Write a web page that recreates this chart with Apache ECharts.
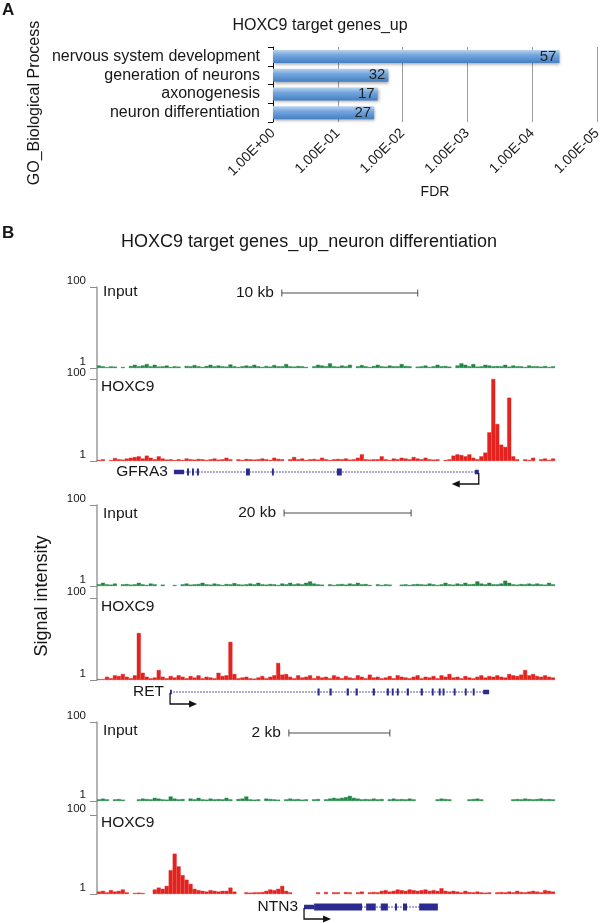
<!DOCTYPE html>
<html><head><meta charset="utf-8">
<script src="https://cdn.jsdelivr.net/npm/echarts@6/dist/echarts.min.js"></script>
<style>html,body{margin:0;padding:0;background:#fff}#c{width:600px;height:923px}</style>
</head><body><div id="c"></div>
<script>
const FONT = '"Liberation Sans", Arial, Helvetica, sans-serif';

// ---------- Panel A data ----------
const goTerms = ['nervous system development', 'generation of neurons', 'axonogenesis', 'neuron differentiation'];
const goFDR = [3.8e-5, 1.66e-2, 2.43e-2, 2.75e-2];
const goCounts = [57, 32, 17, 27];
const fdrTickLabels = ['1.00E+00', '1.00E-01', '1.00E-02', '1.00E-03', '1.00E-04', '1.00E-05'];

// ---------- Panel B data (signal per genomic bin, log scale 1..100) ----------
const gfra3Input = [1.15,1.1,1.05,1.1,1.08,null,1.06,null,1.12,1.2,
 1.1,1.15,1.25,1.1,1.2,1.08,1.1,1.15,1.06,1.1,
 1.08,null,1.12,1.1,1.18,1.1,1.06,1.12,1.2,1.1,
 1.15,1.1,1.08,1.22,1.1,1.06,1.1,1.15,1.1,1.2,
 1.1,1.06,1.12,1.08,1.18,1.1,1.1,1.25,1.1,1.08,
 1.12,1.1,1.06,null,1.1,1.2,1.15,1.1,1.3,1.1,
 1.08,1.15,1.1,1.2,null,1.1,1.18,1.1,1.06,1.12,
 1.2,1.1,1.08,1.15,1.1,1.1,1.25,1.12,1.1,null,
 1.08,1.1,1.15,1.06,1.1,1.2,1.1,1.12,1.08,null,
 1.15,1.3,1.2,1.1,1.25,1.08,1.1,1.2,1.15,1.1,
 1.12,1.1,1.2,1.08,1.15,1.1,1.1,1.06,1.15,1.1,
 1.1,1.08,1.12,1.06,1.1];
const gfra3Hoxc9 = [1.06,1.1,null,1.05,1.18,1.1,1.08,1.15,1.2,1.25,
 1.3,1.15,1.35,1.2,1.1,1.3,1.15,1.08,1.1,1.05,
 1.1,1.06,1.15,1.1,1.08,1.12,1.1,1.06,1.1,1.15,
 1.08,1.1,1.2,1.1,null,1.1,1.06,1.12,1.1,1.08,
 1.1,1.15,1.1,1.06,1.2,1.12,1.1,null,1.1,1.25,
 1.1,1.15,1.06,1.1,1.12,1.08,1.2,1.1,1.06,1.1,
 1.12,1.1,1.15,1.08,1.1,1.2,1.45,1.1,1.08,1.1,
 1.1,1.3,1.1,1.06,1.15,1.1,1.2,1.15,1.1,1.25,
 1.15,1.1,1.2,1.1,1.08,1.1,null,1.06,1.1,1.35,
 1.45,1.4,1.3,1.45,1.2,1.1,1.3,1.6,5,100,
 8,2.5,2.2,35,1.3,1.1,null,1.1,1.06,1.2,
 null,1.1,1.15,1.06,1.15];
const retInput = [1.1,1.2,1.1,1.08,1.15,null,1.1,1.12,1.08,1.1,
 1.2,1.1,1.06,1.15,1.1,null,1.08,null,null,1.06,
 null,1.1,1.15,1.08,1.1,1.12,1.2,1.1,1.08,1.15,
 1.1,1.06,1.12,1.1,1.18,1.1,1.08,1.1,1.15,1.1,
 1.2,1.1,1.08,1.12,1.1,1.06,1.15,1.1,1.2,1.1,
 1.15,1.1,1.2,1.3,1.15,1.1,1.08,null,1.1,1.06,
 1.1,1.12,1.08,1.15,1.1,1.2,1.1,1.12,1.06,null,
 1.1,1.06,1.1,1.08,null,null,1.08,1.1,1.06,1.1,
 1.12,1.1,1.08,1.15,1.1,1.06,1.1,1.2,1.1,1.08,
 1.15,1.1,1.2,1.1,1.12,1.3,1.15,1.1,1.2,1.1,
 1.1,1.15,1.35,1.2,1.1,1.08,1.12,1.1,1.15,1.1,
 1.15,1.1,1.08,1.2,1.1];
const retHoxc9 = [1.05,1.05,1.2,1.1,1.3,1.25,1.4,1.2,1.1,1.3,
 14,1.5,1.2,1.1,1.15,1.75,1.2,1.1,1.25,1.15,
 1.3,1.2,1.1,1.25,1.15,1.3,1.1,1.2,1.15,1.1,
 1.5,1.25,1.3,8.5,1.4,1.1,1.15,1.2,1.1,1.08,
 1.15,1.25,1.1,1.2,1.3,2.6,1.35,1.4,1.2,1.1,
 1.3,1.15,1.2,1.3,1.1,1.25,1.15,1.2,1.1,1.3,
 1.2,1.1,1.25,1.15,1.1,1.3,1.2,1.1,1.35,1.15,
 1.2,1.1,1.15,1.25,1.1,1.3,1.2,1.15,1.1,1.2,
 1.3,1.1,1.2,1.15,1.25,1.1,1.3,1.2,1.4,1.15,
 1.2,1.1,1.25,1.15,1.1,1.2,1.3,1.15,1.25,1.2,
 1.3,1.2,1.15,1.4,1.3,1.25,1.35,1.75,1.3,1.4,
 1.25,1.2,1.3,1.2,1.15];
const ntn3Input = [1.1,1.15,1.1,null,1.1,1.12,1.08,null,null,null,
 1.1,1.15,1.12,1.1,1.2,1.15,1.1,1.08,1.3,1.15,
 1.1,1.12,null,1.15,1.1,1.2,1.1,1.08,1.15,1.1,
 1.12,1.1,1.2,1.1,null,1.12,1.15,1.3,1.1,1.08,
 1.1,null,1.15,1.12,1.1,1.08,null,1.1,1.15,1.1,
 1.12,1.08,1.1,null,1.1,1.12,null,1.1,1.15,1.2,
 1.15,1.2,1.25,1.35,1.2,1.15,1.1,1.12,1.1,1.15,
 1.1,1.12,null,1.1,1.15,1.1,1.12,1.1,1.15,1.1,
 null,null,null,null,null,1.1,1.15,1.12,1.1,null,
 null,null,null,1.1,1.12,1.15,1.1,null,null,null,
 null,null,null,null,1.1,1.12,1.1,1.15,1.12,1.1,
 1.12,1.15,1.1,1.12,1.1];
const ntn3Hoxc9 = [1.15,1.2,1.1,1.25,1.15,1.2,1.3,1.1,null,1.06,
 1.08,1.06,null,null,1.3,1.45,1.35,1.6,4,10.5,
 5,3,2.3,1.8,1.35,1.25,1.2,1.15,1.25,1.2,
 1.15,1.2,1.2,1.45,1.15,null,null,1.1,1.08,1.1,
 1.1,1.12,1.2,1.3,1.25,1.35,1.6,1.2,1.1,null,
 null,null,null,null,null,1.1,null,1.12,null,1.1,
 1.1,null,1.12,1.1,null,1.1,1.15,null,1.1,1.12,
 1.1,1.2,1.25,1.15,1.2,1.3,1.25,1.2,1.3,1.25,
 1.2,1.25,1.3,1.2,1.25,1.2,1.4,1.2,1.15,1.2,
 1.15,1.1,1.2,1.12,1.1,1.15,1.1,1.08,1.1,null,
 1.1,1.12,1.1,1.15,1.1,1.2,1.12,1.1,1.15,1.2,
 1.15,1.1,1.25,1.2,1.15];

// ---------- Gene models (kb from locus start) ----------
const locusGenes = ['GFRA3', 'RET', 'NTN3'];
const locusSpanKb = [33.7, 72.1, 9.07];
const geneStartKb = [5.66, 11.5, 4.10];
const geneEndKb = [28.09, 61.73, 6.75];
const geneStrand = [-1, 1, 1];
// [start, end, coding(1) / utr(0)]
const gfra3Exons = [[5.66,6.40,0],[6.62,6.77,1],[6.99,7.13,1],[7.35,7.50,1],[10.96,11.25,1],[12.87,13.01,1],[17.65,18.01,1],[27.80,28.09,0]];
const retExons = [[11.5,11.75,0],[34.72,35.05,1],[36.6,36.95,1],[39.3,39.65,1],[40.7,41.05,1],[43.4,43.75,1],[45.6,45.95,1],[46.4,46.7,1],[47.2,47.5,1],[48.75,49.1,1],[50.95,51.3,1],[52.7,53.0,1],[53.8,54.1,1],[54.4,54.7,1],[56.15,56.45,1],[57.9,58.2,1],[59.15,59.45,1],[60.79,61.73,0]];
const ntn3Exons = [[4.10,4.30,0],[4.30,5.25,1],[5.33,5.52,1],[5.62,5.76,1],[5.90,5.94,1],[6.06,6.14,1],[6.38,6.75,1]];
const scaleBarStartKb = [13.6, 29.45, 3.80];
const scaleBarKb = [10, 20, 2];
const scaleBarLabels = ['10 kb', '20 kb', '2 kb'];
const trackNames = ['Input', 'HOXC9'];

// ---------- layout (pixels) ----------
const layoutB = [
  {inTop:287, inH:81, chTop:379, chH:82, sbY:293, inLabY:292, chLabY:387, geneY:472},
  {inTop:505, inH:81, chTop:598, chH:82, sbY:513, inLabY:514, chLabY:607, geneY:692},
  {inTop:722, inH:79, chTop:815, chH:79, sbY:733, inLabY:731, chLabY:823, geneY:907}
];
const inputs = [gfra3Input, retInput, ntn3Input];
const chips = [gfra3Hoxc9, retHoxc9, ntn3Hoxc9];
const exonSets = [gfra3Exons, retExons, ntn3Exons];

const GREEN = '#1f8743', RED = '#e3231f', NAVY = '#2c2a8e', TXT = '#161616';
const TL = 97, TW = 458;

const grids = [], xAxis = [], yAxis = [], series = [], graphic = [];
function addGrid(g, xa, ya) {
  const i = grids.length;
  grids.push(Object.assign({outerBoundsMode: 'none', containLabel: false}, g));
  xAxis.push(Object.assign({gridIndex: i}, xa));
  yAxis.push(Object.assign({gridIndex: i}, ya));
  return i;
}
function txt(text, x, y, size, opts) {
  return Object.assign({type: 'text', x: x, y: y, silent: true, style: Object.assign({text: text, font: size + 'px ' + FONT, fill: TXT, align: 'left', verticalAlign: 'middle', textAlign: 'left', textVerticalAlign: 'middle'}, (opts && opts.style) || {})}, (opts && opts.el) || {});
}

// ---------- Panel A ----------
const gA = addGrid({left: 273, top: 47, width: 324, height: 75},
  {type: 'value', min: 0, max: 5, interval: 1,
   axisLine: {show: false}, axisTick: {show: false},
   splitLine: {show: true, lineStyle: {color: '#9c9c9c', width: 1}},
   axisLabel: {rotate: 45, fontSize: 14, color: TXT, fontFamily: FONT, margin: 9, showMinLabel: true, showMaxLabel: true,
     formatter: v => fdrTickLabels[Math.round(v)]},
   name: 'FDR', nameLocation: 'middle', nameGap: 63, nameTextStyle: {fontSize: 14, color: TXT, fontFamily: FONT}},
  {type: 'category', inverse: true, data: goTerms,
   axisLine: {show: true, lineStyle: {color: '#111', width: 1}},
   axisTick: {show: true, length: 5, lineStyle: {color: '#111'}},
   axisLabel: {interval: 0, fontSize: 16, color: TXT, fontFamily: FONT, margin: 13}});
series.push({type: 'bar', xAxisIndex: gA, yAxisIndex: gA, barWidth: 13,
  data: goFDR.map(f => -Math.log10(f)),
  itemStyle: {color: {type: 'linear', x: 0, y: 0, x2: 0, y2: 1, colorStops: [
      {offset: 0, color: '#bcd5f1'}, {offset: 0.4, color: '#74a6de'}, {offset: 1, color: '#4480c3'}]},
    shadowColor: 'rgba(0,0,0,0.35)', shadowBlur: 3, shadowOffsetX: 1, shadowOffsetY: 2},
  label: {show: true, position: 'insideRight', distance: 3, fontSize: 15, color: '#222', fontFamily: FONT,
    formatter: p => String(goCounts[p.dataIndex])}});

graphic.push(txt('A', 2, 10, 17, {style: {font: 'bold 17px ' + FONT}}));
graphic.push(txt('HOXC9 target genes_up', 320, 26, 16, {style: {align: 'center', textAlign: 'center'}}));
graphic.push(txt('GO_Biological Process', 35, 103, 16, {style: {align: 'center', textAlign: 'center'}, el: {rotation: Math.PI / 2}}));

// ---------- Panel B ----------
graphic.push(txt('B', 2, 233, 17, {style: {font: 'bold 17px ' + FONT}}));
graphic.push(txt('HOXC9 target genes_up_neuron differentiation', 309, 242, 18, {style: {align: 'center', textAlign: 'center'}}));
graphic.push(txt('Signal intensity', 42, 596, 18, {style: {align: 'center', textAlign: 'center'}, el: {rotation: Math.PI / 2}}));

function trackX(n) {
  return {type: 'category', data: Array.from({length: n}, (_, i) => i), show: false, boundaryGap: true};
}
function trackY() {
  return {type: 'log', logBase: 100, min: 1, max: 100,
    axisLine: {show: false}, splitLine: {show: false}, minorTick: {show: false},
    axisTick: {show: true, length: 7, lineStyle: {color: '#8d8d8d', width: 1}},
    axisLabel: {fontSize: 11.5, color: TXT, fontFamily: FONT, margin: 11, verticalAlign: 'bottom'}};
}
function sig(gi, data, color) {
  return {type: 'bar', xAxisIndex: gi, yAxisIndex: gi, data: data, barCategoryGap: '0%', silent: true,
    itemStyle: {color: color, borderColor: color, borderWidth: 0.4}};
}
const hiddenX = k => ({type: 'value', min: 0, max: locusSpanKb[k], show: false});
const hiddenY = {type: 'value', min: 0, max: 1, show: false};

function exonRender(params, api) {
  const s = api.coord([api.value(0), 0.5]);
  const e = api.coord([api.value(1), 0.5]);
  const h = api.value(2) ? 7 : 4.5;
  return {type: 'rect', shape: {x: s[0], y: s[1] - h / 2, width: Math.max(e[0] - s[0], 1.8), height: h},
    style: {fill: NAVY}};
}
function intronRender(params, api) {
  const s = api.coord([api.value(0), 0.5]);
  const e = api.coord([api.value(1), 0.5]);
  return {type: 'line', shape: {x1: s[0], y1: s[1], x2: e[0], y2: e[1]},
    style: {stroke: '#5656ad', lineWidth: 1.1, lineDash: [2, 1]}};
}
function strandRender(params, api) {
  const p = api.coord([api.value(0), 0.5]);
  const d = api.value(1);
  const y2 = p[1] + 12, xe = p[0] + d * 27;
  return {type: 'group', children: [
    {type: 'polyline', shape: {points: [[p[0], p[1] + 1], [p[0], y2], [xe - d * 6, y2]]}, style: {stroke: '#111', lineWidth: 1.3, fill: null}},
    {type: 'polygon', shape: {points: [[xe, y2], [xe - d * 8, y2 - 3.5], [xe - d * 8, y2 + 3.5]]}, style: {fill: '#111'}}
  ]};
}

for (let k = 0; k < 3; k++) {
  const L = layoutB[k];
  const n = inputs[k].length;
  const gIn = addGrid({left: TL, width: TW, top: L.inTop, height: L.inH}, trackX(n), trackY());
  series.push(sig(gIn, inputs[k], GREEN));
  const gCh = addGrid({left: TL, width: TW, top: L.chTop, height: L.chH}, trackX(n), trackY());
  series.push(sig(gCh, chips[k], RED));
  // continuous y axis line for the locus
  addGrid({left: TL, width: TW, top: L.inTop, height: L.chTop + L.chH - L.inTop},
    {type: 'value', min: 0, max: 1, show: false},
    {type: 'value', min: 0, max: 1, axisLine: {show: true, lineStyle: {color: '#9b9b9b', width: 1.5}},
     axisTick: {show: false}, axisLabel: {show: false}, splitLine: {show: false}});
  // gene model
  const gG = addGrid({left: TL, width: TW, top: L.geneY - 6, height: 12}, hiddenX(k), hiddenY);
  series.push({type: 'custom', xAxisIndex: gG, yAxisIndex: gG, clip: false, silent: true,
    data: [[geneStartKb[k], geneEndKb[k]]], renderItem: intronRender});
  series.push({type: 'custom', xAxisIndex: gG, yAxisIndex: gG, clip: false, silent: true,
    data: exonSets[k], renderItem: exonRender});
  series.push({type: 'custom', xAxisIndex: gG, yAxisIndex: gG, clip: false, silent: true,
    data: [[geneStrand[k] > 0 ? geneStartKb[k] : geneEndKb[k], geneStrand[k]]], renderItem: strandRender});
  series.push({type: 'custom', xAxisIndex: gG, yAxisIndex: gG, clip: false, silent: true,
    data: [[geneStartKb[k], 0.5]],
    renderItem: (params, api) => {
      const p = api.coord([api.value(0), 0.5]);
      return {type: 'text', style: {text: locusGenes[k], x: p[0] - 6, y: p[1], font: '15.5px ' + FONT, fill: TXT,
        align: 'right', verticalAlign: 'middle', textAlign: 'right', textVerticalAlign: 'middle'}};
    }});
  // scale bar
  const gS = addGrid({left: TL, width: TW, top: L.sbY - 6, height: 12}, hiddenX(k), hiddenY);
  series.push({type: 'custom', xAxisIndex: gS, yAxisIndex: gS, clip: false, silent: true,
    data: [[scaleBarStartKb[k], scaleBarStartKb[k] + scaleBarKb[k]]],
    renderItem: (params, api) => {
      const s = api.coord([api.value(0), 0.5]);
      const e = api.coord([api.value(1), 0.5]);
      const st = {stroke: '#4a4a4a', lineWidth: 1};
      return {type: 'group', children: [
        {type: 'line', shape: {x1: s[0], y1: s[1], x2: e[0], y2: e[1]}, style: st},
        {type: 'line', shape: {x1: s[0], y1: s[1] - 3.5, x2: s[0], y2: s[1] + 3.5}, style: st},
        {type: 'line', shape: {x1: e[0], y1: e[1] - 3.5, x2: e[0], y2: e[1] + 3.5}, style: st},
        {type: 'text', style: {text: scaleBarLabels[k], x: s[0] - 8, y: s[1], font: '15.5px ' + FONT, fill: TXT,
          align: 'right', verticalAlign: 'middle', textAlign: 'right', textVerticalAlign: 'middle'}}
      ]};
    }});
  graphic.push(txt(trackNames[0], 103, L.inLabY, 15.5));
  graphic.push(txt(trackNames[1], 101, L.chLabY, 15.5));
}

const chart = echarts.init(document.getElementById('c'), null, {renderer: 'canvas', width: 600, height: 923});
chart.setOption({
  animation: false,
  backgroundColor: '#fff',
  textStyle: {fontFamily: FONT},
  grid: grids, xAxis: xAxis, yAxis: yAxis, series: series, graphic: graphic
});
</script></body></html>
